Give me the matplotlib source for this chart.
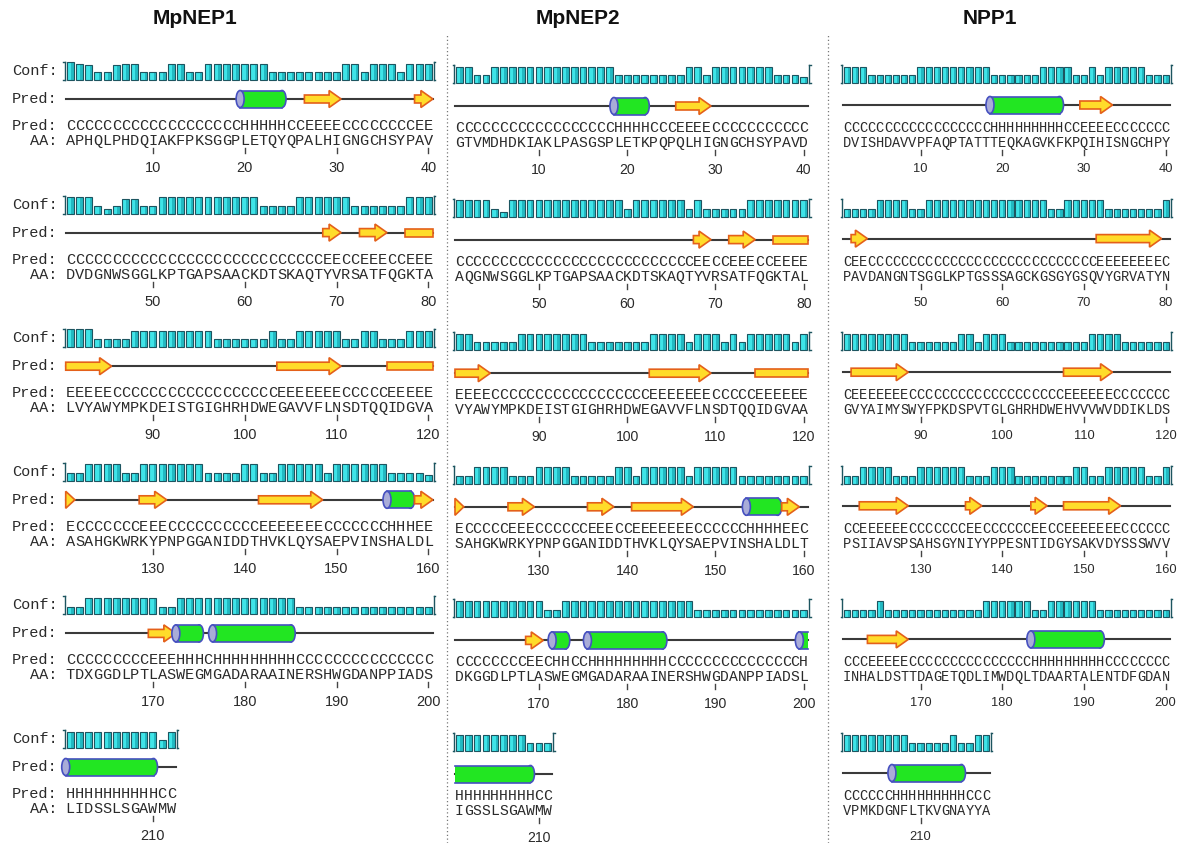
import re
import matplotlib
matplotlib.use("Agg")
import matplotlib.pyplot as plt
from matplotlib.patches import Rectangle, Ellipse, Polygon
from matplotlib.lines import Line2D

W, H = 1188, 843

# ---- MpNEP1 ----
mpnep1_aa = [
    "APHQLPHDQI" "AKFPKSGGPL" "ETQYQPALHI" "GNGCHSYPAV",
    "DVDGNWSGGL" "KPTGAPSAAC" "KDTSKAQTYV" "RSATFQGKTA",
    "LVYAWYMPKD" "EISTGIGHRH" "DWEGAVVFLN" "SDTQQIDGVA",
    "ASAHGKWRKY" "PNPGGANIDD" "THVKLQYSAE" "PVINSHALDL",
    "TDXGGDLPTL" "ASWEGMGADA" "RAAINERSHW" "GDANPPIADS",
    "LIDSSLSGAW" "MW",
]
mpnep1_pred = [
    "CCCCCCCCCC" "CCCCCCCCCH" "HHHHCCEEEE" "CCCCCCCCEE",
    "CCCCCCCCCC" "CCCCCCCCCC" "CCCCCCCCEE" "CCEEECCEEE",
    "EEEEECCCCC" "CCCCCCCCCC" "CCCEEEEEEE" "CCCCCEEEEE",
    "ECCCCCCCEE" "ECCCCCCCCC" "CEEEEEEECC" "CCCCCHHHEE",
    "CCCCCCCCCE" "EEHHHCHHHH" "HHHHHCCCCC" "CCCCCCCCCC",
    "HHHHHHHHHH" "CC",
]
mpnep1_conf = [
    "9873378833" "3883388888" "8833333333" "8838883888",
    "8883137733" "8888888888" "8333388888" "8333333888",
    "9993333888" "8888883333" "3383388888" "3388333888",
    "3388883388" "8888833338" "8338888838" "8888833332",
    "3388888888" "3388888888" "8888833333" "3333333333",
    "8888888888" "38",
]

# ---- MpNEP2 ----
mpnep2_aa = [
    "GTVMDHDKIA" "KLPASGSPLE" "TKPQPQLHIG" "NGCHSYPAVD",
    "AQGNWSGGLK" "PTGAPSAACK" "DTSKAQTYVR" "SATFQGKTAL",
    "VYAWYMPKDE" "ISTGIGHRHD" "WEGAVVFLNS" "DTQQIDGVAA",
    "SAHGKWRKYP" "NPGGANIDDT" "HVKLQYSAEP" "VINSHALDLT",
    "DKGGDLPTLA" "SWEGMGADAR" "AAINERSHWG" "DANPPIADSL",
    "IGSSLSGAWM" "W",
]
mpnep2_pred = [
    "CCCCCCCCCC" "CCCCCCCCHH" "HHCCCEEEEC" "CCCCCCCCCC",
    "CCCCCCCCCC" "CCCCCCCCCC" "CCCCCCCEEC" "CEEECCEEEE",
    "EEEECCCCCC" "CCCCCCCCCC" "CCEEEEEEEC" "CCCCEEEEEE",
    "ECCCCCEEEC" "CCCCCEEECC" "EEEEEEECCC" "CCCHHHHEEC",
    "CCCCCCCCEE" "CHHCCHHHHH" "HHHHCCCCCC" "CCCCCCCCCH",
    "HHHHHHHHHC" "C",
]
mpnep2_conf = [
    "8833888888" "8888888833" "3333338838" "8888883332",
    "8888318888" "8888888883" "8888883833" "3338888888",
    "8833333888" "8888833333" "3388883888" "3838888838",
    "3388883338" "8883333388" "3888883888" "8833333333",
    "8888888888" "3388888888" "8888888333" "3333333333",
    "8888888833" "3",
]

# ---- NPP1 ----
npp1_aa = [
    "DVISHDAVVP" "FAQPTATTTE" "QKAGVKFKPQ" "IHISNGCHPY",
    "PAVDANGNTS" "GGLKPTGSSS" "AGCKGSGYGS" "QVYGRVATYN",
    "GVYAIMYSWY" "FPKDSPVTGL" "GHRHDWEHVV" "VWVDDIKLDS",
    "PSIIAVSPSA" "HSGYNIYYPP" "ESNTIDGYSA" "KVDYSSSWVV",
    "INHALDSTTD" "AGETQDLIMW" "DQLTDAARTA" "LENTDFGDAN",
    "VPMKDGNFLT" "KVGNAYYA",
]
npp1_pred = [
    "CCCCCCCCCC" "CCCCCCCCHH" "HHHHHHHCCE" "EEECCCCCCC",
    "CEECCCCCCC" "CCCCCCCCCC" "CCCCCCCCCC" "CEEEEEEEEC",
    "CEEEEEEECC" "CCCCCCCCCC" "CCCCCCCEEE" "EEECCCCCCC",
    "CCEEEEEECC" "CCCCCEECCC" "CCCEECCEEE" "EEEECCCCCC",
    "CCCEEEEECC" "CCCCCCCCCC" "CCCHHHHHHH" "HHCCCCCCCC",
    "CCCCCCHHHH" "HHHHHCCC",
]
npp1_conf = [
    "8883333338" "8888888833" "3333888833" "8388888333",
    "3333888833" "8888888888" "8888833888" "8833333338",
    "8888888833" "3333883888" "3333333333" "8888333333",
    "3388883338" "8888833388" "8333333388" "3388888338",
    "3333833333" "3333333888" "8883388888" "8333333333",
    "8888888833" "33383388",
]

names = ["MpNEP1", "MpNEP2", "NPP1"]
aa_rows = [mpnep1_aa, mpnep2_aa, npp1_aa]
pred_rows = [mpnep1_pred, mpnep2_pred, npp1_pred]
conf_rows = [mpnep1_conf, mpnep2_conf, npp1_conf]

for a, p, c in zip(aa_rows, pred_rows, conf_rows):
    for ra, rp, rc in zip(a, p, c):
        assert len(ra) == len(rp) == len(rc), (ra, rp, rc)

# panel geometry in pixels: left, right, centre of residue 1, pixels per residue,
# and vertical offsets of the conf baseline, cartoon, pred text, AA text, ruler
panels = [
    dict(left=0, right=447, x1=70.3, dx=9.18, conf=80, line=99, pred=126, aa=141, tick=148, num=168, title=195),
    dict(left=447, right=828, x1=459.4, dx=8.83, conf=83, line=106, pred=128, aa=143, tick=150, num=170, title=578),
    dict(left=828, right=1188, x1=847.0, dx=8.17, conf=83, line=105, pred=128, aa=143, tick=150, num=169, title=990),
]
PITCH = 133.6

CYAN, CYAN_DARK, CYAN_EDGE = "#3fe4e8", "#22b9c2", "#1d5560"
GREEN, BLUE, CAP = "#22e622", "#4650c0", "#a9acd8"
YELLOW, ORANGE = "#ffdc2a", "#e4601a"
TXT = "#2a2a2a"
MONO = "Liberation Mono"


def draw_helix(ax, x0, x1, y, cap, has_start, has_end):
    hh = 8.5
    xr = x1
    if has_end:
        xr = x1 - cap / 2
        ax.add_patch(Ellipse((xr, y), cap, 2 * hh, fc=GREEN, ec=BLUE, lw=1.2, zorder=3))
    ax.add_patch(Rectangle((x0, y - hh), xr - x0, 2 * hh, fc=GREEN, ec="none", zorder=4))
    ax.plot([x0, xr], [y - hh, y - hh], color=BLUE, lw=1.2, zorder=5)
    ax.plot([x0, xr], [y + hh, y + hh], color=BLUE, lw=1.2, zorder=5)
    if has_start:
        ax.add_patch(Ellipse((x0, y), cap, 2 * hh, fc=CAP, ec=BLUE, lw=1.2, zorder=6))


def draw_strand(ax, x0, x1, y, head, has_end):
    bh, hh = 4.0, 8.5
    if has_end:
        xh = max(x0, x1 - head)
        pts = [(x0, y - bh), (xh, y - bh), (xh, y - hh), (x1, y),
               (xh, y + hh), (xh, y + bh), (x0, y + bh)]
    else:
        pts = [(x0, y - bh), (x1, y - bh), (x1, y + bh), (x0, y + bh)]
    ax.add_patch(Polygon(pts, closed=True, fc=YELLOW, ec=ORANGE, lw=1.2,
                         joinstyle="miter", zorder=3))


fig = plt.figure(figsize=(W / 100, H / 100), dpi=100)
fig.patch.set_facecolor("white")

for k, (name, aa, pred, conf, g) in enumerate(zip(names, aa_rows, pred_rows, conf_rows, panels)):
    ax = fig.add_axes([g["left"] / W, 0, (g["right"] - g["left"]) / W, 1])
    ax.set_xlim((g["left"] - g["x1"]) / g["dx"] + 1, (g["right"] - g["x1"]) / g["dx"] + 1)
    ax.set_ylim(H, 0)
    ax.axis("off")
    fs = g["dx"] / 0.6 * 0.72

    fig.text(g["title"] / W, 1 - 18 / H, name, ha="center", va="center",
             fontsize=15, fontweight="bold", family="Liberation Sans", color="#111111")

    full = "".join(pred)
    helices = [(m.start(), m.end() - 1) for m in re.finditer("H+", full)]
    strands = [(m.start(), m.end() - 1) for m in re.finditer("E+", full)]

    start = 0
    for r, (seq, ss, cf) in enumerate(zip(aa, pred, conf)):
        n = len(seq)
        off = r * PITCH
        yb = g["conf"] + off
        yl = g["line"] + off
        pos = range(1, n + 1)

        # confidence bars, with a darker right face for a bit of depth
        for i, v in zip(pos, cf):
            h = 2.5 + int(v) * 1.75
            ax.add_patch(Rectangle((i - 0.38, yb - h), 0.76, h, fc=CYAN, ec="none"))
            ax.add_patch(Rectangle((i + 0.1, yb - h), 0.28, h, fc=CYAN_DARK, ec="none"))
            ax.add_patch(Rectangle((i - 0.38, yb - h), 0.76, h, fc="none", ec=CYAN_EDGE, lw=0.8))
        ax.plot([0.38, 0.38], [yb, yb - 18], color=CYAN_EDGE, lw=1.0)
        ax.plot([0.22, 0.38], [yb - 18, yb - 18], color=CYAN_EDGE, lw=1.0)
        ax.plot([0.22, 0.38], [yb, yb], color=CYAN_EDGE, lw=1.0)
        ax.plot([n + 0.62, n + 0.62], [yb, yb - 18], color=CYAN_EDGE, lw=1.0)
        ax.plot([n + 0.62, n + 0.78], [yb - 18, yb - 18], color=CYAN_EDGE, lw=1.0)
        ax.plot([n + 0.62, n + 0.78], [yb, yb], color=CYAN_EDGE, lw=1.0)

        # cartoon backbone
        ax.plot([0.5, n + 0.5], [yl, yl], color="#3a3a3a", lw=1.5, zorder=2)
        end = start + n - 1
        for a, b in helices:
            lo, hi = max(a, start), min(b, end)
            if lo <= hi:
                draw_helix(ax, lo - start + 0.5, hi - start + 1.5, yl, 8.0 / g["dx"],
                           a >= start, b <= end)
        for a, b in strands:
            lo, hi = max(a, start), min(b, end)
            if lo <= hi:
                draw_strand(ax, lo - start + 0.5, hi - start + 1.5, yl, 12.0 / g["dx"], b <= end)

        # prediction and sequence letters
        for i, c1, c2 in zip(pos, ss, seq):
            ax.text(i, g["pred"] + off, c1, ha="center", va="center", fontsize=fs,
                    family=MONO, color=TXT)
            ax.text(i, g["aa"] + off, c2, ha="center", va="center", fontsize=fs,
                    family=MONO, color=TXT)

        # ruler
        for i in pos:
            num = start + i
            if num % 10 == 0:
                ax.plot([i, i], [g["tick"] + off, g["tick"] + off + 5], color="#444444", lw=1.0)
                ax.text(i, g["num"] + off, str(num), ha="center", va="center",
                        fontsize=fs * 0.95, family="Liberation Sans", color=TXT)

        if k == 0:
            for y, lab in [(yb - 9, "Conf:"), (yl, "Pred:"), (g["pred"] + off, "Pred:"),
                           (g["aa"] + off, "AA:")]:
                ax.text(-0.4, y, lab, ha="right", va="center", fontsize=fs,
                        family=MONO, color=TXT)
        start += n

# dotted separators between the panels
for xs in (447, 828):
    fig.add_artist(Line2D([xs / W, xs / W], [0, 1 - 35 / H], transform=fig.transFigure,
                          color="#777777", lw=0.9, ls=(0, (1, 2))))

fig.savefig("out.png", dpi=100, facecolor="white")
